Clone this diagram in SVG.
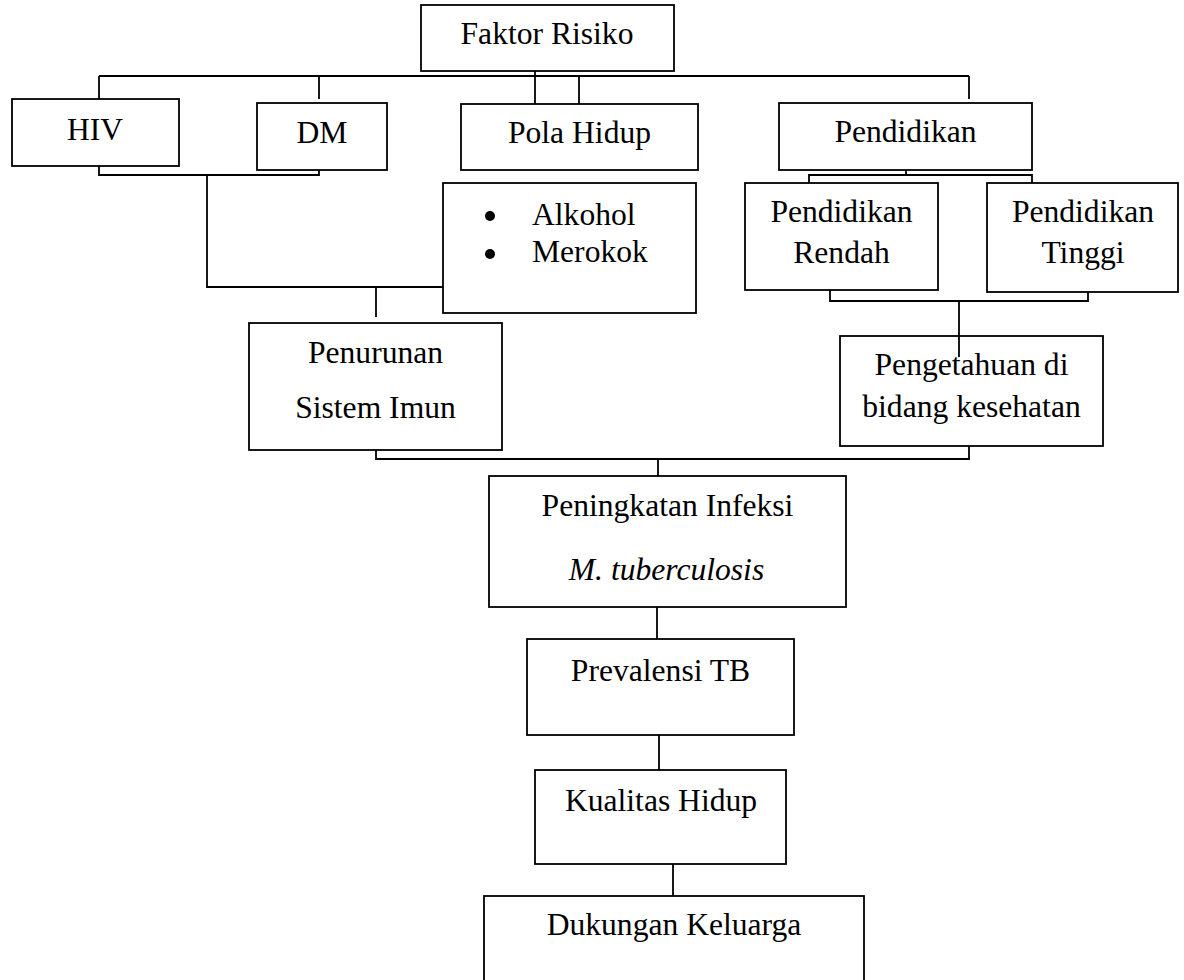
<svg xmlns="http://www.w3.org/2000/svg" width="1184" height="980" viewBox="0 0 1184 980">
<style>
.box{fill:#fff;stroke:#000;stroke-width:1.8}
.ln{fill:none;stroke:#000;stroke-width:1.8}
text{font-family:"Liberation Serif","Times New Roman",serif;font-size:31.6px;fill:#000}
.c{text-anchor:middle}
.it{font-style:italic}
</style>
<rect width="1184" height="980" fill="#fff"/>
<g id="connectors">
<path class="ln" d="M99,76 H969 M99,76 V99 M319,76 V99 M535,71 V104 M579,76 V104 M969,76 V99"/>
<path class="ln" d="M99,166 V175 H319 V170"/>
<path class="ln" d="M207,175 V287 H443"/>
<path class="ln" d="M376,287 V317"/>
<path class="ln" d="M906,170 V175 M809,183 V175 H1032 V183"/>
<path class="ln" d="M830,290 V301 H1088 V292"/>
<path class="ln" d="M376,450 V459 H969 V446 M658,459 V476"/>
<path class="ln" d="M657,607 V639"/>
<path class="ln" d="M659,735 V770"/>
<path class="ln" d="M673,864 V896"/>
</g>
<g id="faktor"><rect class="box" x="421" y="5" width="253" height="66"/><text class="c" x="547" y="44">Faktor Risiko</text></g>
<g id="hiv"><rect class="box" x="12" y="99" width="167" height="67"/><text class="c" x="95" y="140">HIV</text></g>
<g id="dm"><rect class="box" x="257" y="103" width="130" height="67"/><text class="c" x="322" y="143">DM</text></g>
<g id="polahidup"><rect class="box" x="461" y="104" width="237" height="66"/><text class="c" x="579.5" y="143">Pola Hidup</text></g>
<g id="pendidikan"><rect class="box" x="779" y="103" width="253" height="67"/><text class="c" x="905.5" y="142">Pendidikan</text></g>
<g id="gayahidup"><rect class="box" x="443" y="183" width="253" height="130"/>
<circle cx="490" cy="216" r="5"/><circle cx="490" cy="254" r="5"/>
<text x="532" y="225">Alkohol</text><text x="532" y="262">Merokok</text></g>
<g id="rendah"><rect class="box" x="745" y="183" width="193" height="107"/><text class="c" x="841.5" y="222">Pendidikan</text><text class="c" x="841.5" y="263">Rendah</text></g>
<g id="tinggi"><rect class="box" x="987" y="183" width="191" height="109"/><text class="c" x="1083" y="222">Pendidikan</text><text class="c" x="1083" y="263">Tinggi</text></g>
<g id="penurunan"><rect class="box" x="249" y="323" width="253" height="127"/><text class="c" x="375.5" y="363">Penurunan</text><text class="c" x="375.5" y="418">Sistem Imun</text></g>
<g id="pengetahuan"><rect class="box" x="840" y="336" width="263" height="110"/><text class="c" x="971.5" y="375">Pengetahuan di</text><text class="c" x="971.5" y="417">bidang kesehatan</text></g>
<path class="ln" d="M959,301 V357"/>
<g id="peningkatan"><rect class="box" x="489" y="476" width="357" height="131"/><text class="c" x="667.5" y="516">Peningkatan Infeksi</text><text class="c it" x="666.5" y="580">M. tuberculosis</text></g>
<g id="prevalensi"><rect class="box" x="527" y="639" width="267" height="96"/><text class="c" x="660.5" y="681">Prevalensi TB</text></g>
<g id="kualitas"><rect class="box" x="535" y="770" width="251" height="94"/><text class="c" x="661" y="811">Kualitas Hidup</text></g>
<g id="dukungan"><rect class="box" x="484" y="896" width="380" height="100"/><text class="c" x="674" y="935">Dukungan Keluarga</text></g>
</svg>
